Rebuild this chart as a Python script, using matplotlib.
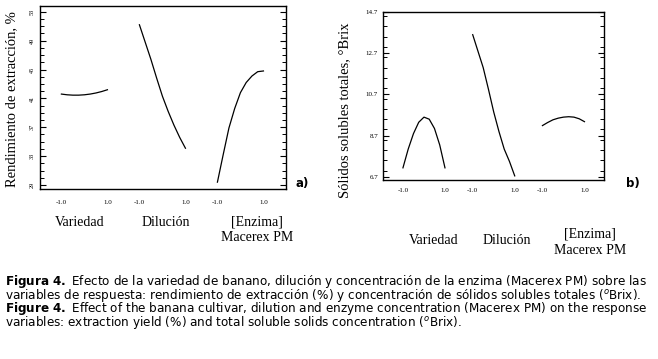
import matplotlib
matplotlib.use("Agg")
import matplotlib.pyplot as plt
from matplotlib.ticker import MultipleLocator

# niveles codificados de cada factor
niveles = [-1.0, -0.75, -0.5, -0.25, 0.0, 0.25, 0.5, 0.75, 1.0]
factores = ["Variedad", "Dilución", "[Enzima]\nMacerex PM"]

# a) rendimiento de extracción, %
rend_variedad = [41.6, 41.5, 41.45, 41.45, 41.5, 41.6, 41.75, 41.95, 42.2]
rend_dilucion = [51.2, 48.8, 46.4, 43.8, 41.3, 39.2, 37.3, 35.6, 34.1]
rend_enzima = [29.4, 33.2, 36.9, 39.6, 41.8, 43.2, 44.1, 44.7, 44.8]

# b) sólidos solubles totales, °Brix
brix_variedad = [7.14, 8.05, 8.8, 9.35, 9.6, 9.5, 9.05, 8.25, 7.14]
brix_dilucion = [13.6, 12.8, 12.0, 10.95, 9.85, 8.9, 8.05, 7.45, 6.75]
brix_enzima = [9.19, 9.34, 9.47, 9.55, 9.6, 9.62, 9.6, 9.52, 9.38]

rend_yticks = [29, 33, 37, 41, 45, 49, 53]
brix_yticks = [6.7, 8.7, 10.7, 12.7, 14.7]

plt.rcParams["mathtext.fontset"] = "dejavusans"

W, H = 658, 359
fig = plt.figure(figsize=(W / 100, H / 100), dpi=100)
serif = ["Liberation Serif", "DejaVu Serif"]


def px(x, y):
    # pixeles (desde arriba a la izquierda) -> fraccion de figura
    return x / W, 1 - y / H


def panel(rect, series, sep, xlim, ylim, yticks, ymin, ytick_kw, xlab_pad):
    ax = fig.add_axes(rect)
    for i, s in enumerate(series):
        ax.plot([n + i * sep for n in niveles], s, color="black", lw=0.9)
    ax.set_xlim(*xlim)
    ax.set_ylim(*ylim)
    pos, labs = [], []
    for i in range(3):
        pos += [-1 + i * sep, 1 + i * sep]
        labs += ["-1.0", "1.0"]
    ax.set_xticks(pos)
    ax.set_xticklabels(labs, fontsize=5, family=serif)
    ax.tick_params(axis="x", length=0, pad=xlab_pad)
    ax.set_yticks(yticks)
    ax.yaxis.set_minor_locator(MultipleLocator(ymin))
    ax.tick_params(axis="y", which="both", direction="in", left=True, right=True)
    ax.tick_params(axis="y", which="major", length=4, width=0.8)
    ax.tick_params(axis="y", which="minor", length=3, width=0.7)
    ax.set_yticklabels([str(t) for t in yticks], family=serif, **ytick_kw)
    for sp in ax.spines.values():
        sp.set_linewidth(1.0)
    return ax


# panel a)
l, b = px(40, 189)
r, t = px(286, 6)
panel([l, b, r - l, t - b], [rend_variedad, rend_dilucion, rend_enzima],
      3.39, (-1.93, 8.76), (28.45, 53.8), rend_yticks, 1,
      dict(fontsize=4.5, rotation=90, va="center"), 8)

# panel b)
l, b = px(383, 180)
r, t = px(604, 12)
panel([l, b, r - l, t - b], [brix_variedad, brix_dilucion, brix_enzima],
      3.32, (-1.95, 8.57), (6.55, 14.7), brix_yticks, 0.5,
      dict(fontsize=5), 6)

# etiquetas de ejes
fig.text(*px(12, 99), "Rendimiento de extracción, %", rotation=90,
         ha="center", va="center", fontsize=10.5, family=serif)
fig.text(*px(345, 110), "Sólidos solubles totales, °Brix", rotation=90,
         ha="center", va="center", fontsize=10.5, family=serif)

for (x, y), lab in zip([(80, 222), (166, 222), (257, 230)], factores):
    fig.text(*px(x, y), lab, ha="center", va="center", fontsize=10,
             family=serif, linespacing=1.25)
for (x, y), lab in zip([(434, 240), (507, 241), (590, 242)], factores):
    fig.text(*px(x, y), lab, ha="center", va="center", fontsize=10,
             family=serif, linespacing=1.3)

fig.text(*px(302, 183), "a)", ha="center", va="center", fontsize=8.5,
         fontweight="bold")
fig.text(*px(633, 183), "b)", ha="center", va="center", fontsize=8.5,
         fontweight="bold")

# pie de figura (un solo texto de varias líneas; negrita con mathtext)
caption = "\n".join([
    r"$\mathbf{Figura\ 4.}$ Efecto de la variedad de banano, dilución y concentración de la enzima (Macerex PM) sobre las",
    r"variables de respuesta: rendimiento de extracción (%) y concentración de sólidos solubles totales ($^o$Brix).",
    r"$\mathbf{Figure\ 4.}$ Effect of the banana cultivar, dilution and enzyme concentration (Macerex PM) on the response",
    r"variables: extraction yield (%) and total soluble solids concentration ($^o$Brix).",
])
rend = fig.canvas.get_renderer()

# ajustar el tamaño para que la línea más larga ocupe el ancho del original
prueba = fig.text(0, 0, caption, fontsize=8, family="DejaVu Sans")
fs = 8 * 645 / prueba.get_window_extent(rend).width
prueba.remove()

fig.text(*px(5, 302), caption, ha="left", va="center", fontsize=fs,
         family="DejaVu Sans", linespacing=0.71)

fig.savefig("out.png", dpi=100)
plt.close(fig)
